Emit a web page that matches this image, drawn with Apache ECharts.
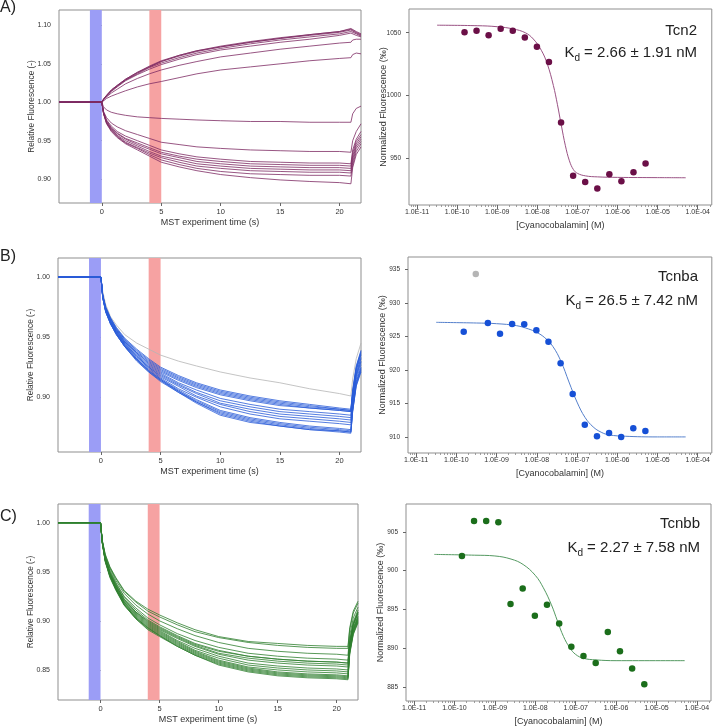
<!DOCTYPE html>
<html><head><meta charset="utf-8">
<script src="https://cdn.jsdelivr.net/npm/echarts@6/dist/echarts.min.js"></script>
<style>html,body{margin:0;padding:0;background:#fff}#c{width:713px;height:727px}</style>
</head><body><div id="c"></div>
<script>
// ---------- time axis samples (s) ----------
const T = [-3.6, 0, 0.15, 0.4, 0.8, 1.3, 2, 3, 4, 5, 6.5, 8, 10, 12.5, 15, 17.5, 20, 20.95, 21.1, 21.4, 21.8];
const TIME_TICKS = [0, 5, 10, 15, 20];
const BLUE_BAND = [-1, 0];
const RED_BAND = [4, 5];

// ---------- Panel A traces (Tcn2) ----------
const A_U1 = [1.000, 1.000, 1.004, 1.009, 1.016, 1.022, 1.030, 1.039, 1.047, 1.054, 1.061, 1.067, 1.073, 1.079, 1.084, 1.088, 1.092, 1.095, 1.094, 1.091, 1.088];
const A_U7 = [1.000, 1.000, 1.004, 1.009, 1.016, 1.022, 1.030, 1.039, 1.046, 1.053, 1.061, 1.067, 1.072, 1.078, 1.083, 1.088, 1.092, 1.096, 1.095, 1.092, 1.089];
const A_U2 = [1.000, 1.000, 1.004, 1.009, 1.015, 1.021, 1.029, 1.038, 1.046, 1.053, 1.060, 1.066, 1.072, 1.078, 1.083, 1.087, 1.091, 1.094, 1.093, 1.090, 1.087];
const A_U3 = [1.000, 1.000, 1.004, 1.008, 1.015, 1.021, 1.029, 1.037, 1.045, 1.051, 1.058, 1.064, 1.070, 1.076, 1.081, 1.085, 1.089, 1.092, 1.091, 1.089, 1.086];
const A_U4 = [1.000, 1.000, 1.004, 1.008, 1.014, 1.020, 1.028, 1.036, 1.043, 1.049, 1.056, 1.062, 1.068, 1.073, 1.078, 1.082, 1.087, 1.090, 1.089, 1.087, 1.085];
const A_U5 = [1.000, 1.000, 1.003, 1.007, 1.012, 1.017, 1.024, 1.031, 1.037, 1.042, 1.048, 1.053, 1.059, 1.064, 1.069, 1.073, 1.077, 1.078, 1.081, 1.082, 1.082];
const A_U6 = [1.000, 1.000, 1.002, 1.005, 1.008, 1.011, 1.015, 1.020, 1.024, 1.027, 1.032, 1.037, 1.042, 1.046, 1.050, 1.054, 1.057, 1.058, 1.062, 1.064, 1.063];
const A_M  = [1.000, 1.000, 0.994, 0.990, 0.987, 0.985, 0.983, 0.981, 0.980, 0.979, 0.978, 0.977, 0.976, 0.975, 0.975, 0.974, 0.974, 0.974, 0.985, 0.992, 0.995];
const A_L1 = [1.000, 1.000, 0.988, 0.980, 0.973, 0.968, 0.963, 0.958, 0.953, 0.948, 0.945, 0.942, 0.940, 0.938, 0.937, 0.936, 0.936, 0.935, 0.950, 0.962, 0.972];
const A_L2 = [1.000, 1.000, 0.987, 0.977, 0.969, 0.962, 0.956, 0.950, 0.944, 0.938, 0.933, 0.929, 0.926, 0.923, 0.922, 0.921, 0.921, 0.920, 0.938, 0.952, 0.962];
const A_L3 = [1.000, 1.000, 0.986, 0.976, 0.967, 0.960, 0.953, 0.947, 0.941, 0.935, 0.930, 0.926, 0.923, 0.920, 0.919, 0.918, 0.918, 0.917, 0.934, 0.949, 0.958];
const A_L4 = [1.000, 1.000, 0.986, 0.975, 0.966, 0.959, 0.952, 0.945, 0.939, 0.933, 0.928, 0.923, 0.920, 0.917, 0.916, 0.915, 0.915, 0.914, 0.930, 0.946, 0.955];
const A_L5 = [1.000, 1.000, 0.986, 0.974, 0.965, 0.957, 0.950, 0.943, 0.936, 0.930, 0.925, 0.920, 0.917, 0.914, 0.913, 0.912, 0.912, 0.911, 0.926, 0.943, 0.952];
const A_L6 = [1.000, 1.000, 0.985, 0.973, 0.964, 0.956, 0.948, 0.941, 0.934, 0.928, 0.922, 0.917, 0.914, 0.911, 0.910, 0.909, 0.909, 0.908, 0.922, 0.940, 0.949];
const A_L7 = [1.000, 1.000, 0.985, 0.973, 0.963, 0.955, 0.947, 0.940, 0.932, 0.925, 0.919, 0.914, 0.910, 0.907, 0.906, 0.905, 0.905, 0.904, 0.918, 0.936, 0.946];
const A_L8 = [1.000, 1.000, 0.985, 0.972, 0.962, 0.954, 0.946, 0.938, 0.930, 0.922, 0.916, 0.911, 0.906, 0.902, 0.899, 0.897, 0.8955, 0.894, 0.915, 0.932, 0.942];
const TRACES_A = [A_U1, A_U7, A_U2, A_U3, A_U4, A_U5, A_U6, A_M, A_L1, A_L2, A_L3, A_L4, A_L5, A_L6, A_L7, A_L8];

// ---------- Panel B traces (Tcnba) ----------
const B_G  = [1.000, 1.000, 0.988, 0.977, 0.967, 0.960, 0.952, 0.945, 0.940, 0.935, 0.930, 0.926, 0.921, 0.916, 0.912, 0.907, 0.903, 0.901, 0.915, 0.932, 0.945];
const B_1  = [1.000, 1.000, 0.985, 0.975, 0.966, 0.958, 0.949, 0.940, 0.932, 0.925, 0.918, 0.912, 0.906, 0.901, 0.897, 0.894, 0.891, 0.890, 0.906, 0.926, 0.939];
const B_2  = [1.000, 1.000, 0.985, 0.975, 0.966, 0.957, 0.948, 0.939, 0.931, 0.924, 0.917, 0.911, 0.905, 0.900, 0.896, 0.893, 0.890, 0.889, 0.905, 0.925, 0.938];
const B_3  = [1.000, 1.000, 0.985, 0.974, 0.965, 0.957, 0.948, 0.938, 0.930, 0.923, 0.916, 0.910, 0.904, 0.899, 0.895, 0.892, 0.890, 0.889, 0.904, 0.924, 0.937];
const B_4  = [1.000, 1.000, 0.984, 0.974, 0.965, 0.956, 0.947, 0.937, 0.929, 0.922, 0.915, 0.909, 0.903, 0.898, 0.894, 0.891, 0.889, 0.888, 0.903, 0.923, 0.936];
const B_5  = [1.000, 1.000, 0.984, 0.974, 0.964, 0.956, 0.946, 0.937, 0.928, 0.921, 0.914, 0.908, 0.902, 0.897, 0.893, 0.891, 0.889, 0.888, 0.902, 0.922, 0.935];
const B_6  = [1.000, 1.000, 0.984, 0.973, 0.964, 0.955, 0.946, 0.936, 0.927, 0.920, 0.912, 0.906, 0.899, 0.894, 0.890, 0.888, 0.886, 0.885, 0.900, 0.920, 0.933];
const B_7  = [1.000, 1.000, 0.984, 0.973, 0.963, 0.955, 0.945, 0.935, 0.926, 0.919, 0.911, 0.904, 0.897, 0.892, 0.888, 0.886, 0.884, 0.883, 0.899, 0.919, 0.932];
const B_8  = [1.000, 1.000, 0.984, 0.973, 0.963, 0.954, 0.945, 0.934, 0.925, 0.918, 0.910, 0.903, 0.895, 0.890, 0.886, 0.884, 0.882, 0.881, 0.897, 0.918, 0.930];
const B_9  = [1.000, 1.000, 0.984, 0.972, 0.963, 0.954, 0.944, 0.934, 0.925, 0.917, 0.909, 0.901, 0.894, 0.888, 0.884, 0.882, 0.880, 0.879, 0.896, 0.917, 0.929];
const B_10 = [1.000, 1.000, 0.983, 0.972, 0.962, 0.953, 0.944, 0.933, 0.924, 0.916, 0.907, 0.900, 0.892, 0.886, 0.882, 0.880, 0.878, 0.877, 0.894, 0.915, 0.927];
const B_11 = [1.000, 1.000, 0.983, 0.972, 0.962, 0.953, 0.943, 0.932, 0.923, 0.915, 0.906, 0.898, 0.889, 0.883, 0.879, 0.876, 0.874, 0.873, 0.891, 0.913, 0.925];
const B_12 = [1.000, 1.000, 0.983, 0.971, 0.962, 0.953, 0.943, 0.932, 0.922, 0.915, 0.905, 0.897, 0.888, 0.882, 0.878, 0.875, 0.873, 0.872, 0.890, 0.912, 0.924];
const B_13 = [1.000, 1.000, 0.983, 0.971, 0.961, 0.952, 0.942, 0.931, 0.922, 0.914, 0.905, 0.896, 0.887, 0.881, 0.877, 0.874, 0.872, 0.871, 0.889, 0.911, 0.923];
const B_14 = [1.000, 1.000, 0.983, 0.971, 0.961, 0.952, 0.942, 0.931, 0.921, 0.914, 0.904, 0.896, 0.886, 0.880, 0.876, 0.873, 0.872, 0.871, 0.888, 0.910, 0.922];
const B_15 = [1.000, 1.000, 0.983, 0.971, 0.961, 0.952, 0.942, 0.930, 0.921, 0.913, 0.904, 0.895, 0.885, 0.879, 0.876, 0.873, 0.871, 0.870, 0.888, 0.909, 0.921];
const TRACES_B = [B_1, B_2, B_3, B_4, B_5, B_6, B_7, B_8, B_9, B_10, B_11, B_12, B_13, B_14, B_15];

// ---------- Panel C traces (Tcnbb) ----------
const C_1  = [1.000, 1.000, 0.982, 0.968, 0.955, 0.944, 0.931, 0.920, 0.912, 0.906, 0.898, 0.891, 0.884, 0.879, 0.877, 0.875, 0.874, 0.874, 0.893, 0.910, 0.920];
const C_2  = [1.000, 1.000, 0.982, 0.967, 0.954, 0.943, 0.930, 0.919, 0.910, 0.904, 0.896, 0.889, 0.883, 0.878, 0.875, 0.873, 0.872, 0.872, 0.891, 0.908, 0.918];
const C_15 = [1.000, 1.000, 0.981, 0.966, 0.953, 0.941, 0.928, 0.916, 0.907, 0.900, 0.892, 0.885, 0.878, 0.872, 0.869, 0.867, 0.866, 0.865, 0.885, 0.903, 0.914];
const C_3  = [1.000, 1.000, 0.981, 0.965, 0.951, 0.939, 0.925, 0.913, 0.903, 0.896, 0.887, 0.880, 0.873, 0.867, 0.864, 0.862, 0.861, 0.860, 0.880, 0.899, 0.911];
const C_16 = [1.000, 1.000, 0.980, 0.963, 0.948, 0.936, 0.922, 0.909, 0.900, 0.893, 0.884, 0.876, 0.869, 0.864, 0.861, 0.859, 0.858, 0.857, 0.878, 0.897, 0.909];
const C_4  = [1.000, 1.000, 0.981, 0.964, 0.950, 0.938, 0.924, 0.911, 0.901, 0.894, 0.885, 0.877, 0.870, 0.864, 0.861, 0.859, 0.858, 0.857, 0.878, 0.897, 0.909];
const C_5  = [1.000, 1.000, 0.981, 0.964, 0.949, 0.937, 0.922, 0.909, 0.899, 0.892, 0.883, 0.875, 0.867, 0.862, 0.859, 0.857, 0.856, 0.855, 0.876, 0.896, 0.908];
const C_6  = [1.000, 1.000, 0.980, 0.963, 0.948, 0.936, 0.921, 0.908, 0.898, 0.891, 0.882, 0.874, 0.866, 0.860, 0.857, 0.855, 0.854, 0.853, 0.875, 0.895, 0.907];
const C_7  = [1.000, 1.000, 0.980, 0.963, 0.948, 0.935, 0.920, 0.907, 0.897, 0.890, 0.880, 0.872, 0.864, 0.857, 0.854, 0.852, 0.851, 0.850, 0.873, 0.893, 0.905];
const C_8  = [1.000, 1.000, 0.980, 0.962, 0.947, 0.934, 0.919, 0.906, 0.896, 0.889, 0.879, 0.870, 0.862, 0.855, 0.852, 0.850, 0.849, 0.848, 0.872, 0.892, 0.904];
const C_9  = [1.000, 1.000, 0.980, 0.962, 0.947, 0.934, 0.919, 0.905, 0.895, 0.888, 0.878, 0.869, 0.860, 0.853, 0.850, 0.848, 0.847, 0.846, 0.871, 0.891, 0.903];
const C_10 = [1.000, 1.000, 0.980, 0.962, 0.946, 0.933, 0.918, 0.904, 0.894, 0.887, 0.877, 0.868, 0.859, 0.852, 0.848, 0.846, 0.845, 0.844, 0.870, 0.890, 0.902];
const C_11 = [1.000, 1.000, 0.980, 0.961, 0.946, 0.933, 0.917, 0.903, 0.893, 0.886, 0.876, 0.867, 0.858, 0.851, 0.847, 0.845, 0.844, 0.843, 0.869, 0.889, 0.901];
const C_12 = [1.000, 1.000, 0.979, 0.961, 0.945, 0.932, 0.917, 0.903, 0.893, 0.885, 0.875, 0.866, 0.857, 0.850, 0.846, 0.844, 0.843, 0.842, 0.868, 0.888, 0.900];
const C_13 = [1.000, 1.000, 0.979, 0.961, 0.945, 0.932, 0.916, 0.902, 0.892, 0.885, 0.874, 0.865, 0.856, 0.849, 0.845, 0.843, 0.842, 0.841, 0.867, 0.887, 0.899];
const C_14 = [1.000, 1.000, 0.979, 0.960, 0.944, 0.931, 0.916, 0.902, 0.891, 0.884, 0.874, 0.865, 0.855, 0.848, 0.844, 0.842, 0.841, 0.840, 0.866, 0.886, 0.898];
const TRACES_C = [C_1, C_2, C_15, C_3, C_16, C_4, C_5, C_6, C_7, C_8, C_9, C_10, C_11, C_12, C_13, C_14];

// ---------- Dose-response data ----------
const CONC = [1.53e-10, 3.05e-10, 6.10e-10, 1.22e-9, 2.44e-9, 4.88e-9, 9.77e-9, 1.95e-8, 3.91e-8, 7.81e-8, 1.56e-7, 3.13e-7, 6.25e-7, 1.25e-6, 2.50e-6, 5.00e-6];
const TCN2  = [1050.3, 1051.6, 1047.9, 1053.2, 1051.6, 1046.3, 1038.8, 1026.6, 978.5, 936.0, 931.2, 925.9, 937.3, 931.7, 938.9, 945.8];
const TCNBA = [925.7, null, 927.0, 925.4, 926.85, 926.8, 925.9, 924.2, 921.0, 916.4, 911.8, 910.1, 910.6, 910.0, 911.3, 910.9];
const TCNBA_EXCLUDED = [null, 934.3, null, null, null, null, null, null, null, null, null, null, null, null, null, null];
const TCNBB = [901.9, 906.4, 906.4, 906.25, 895.7, 897.7, 894.2, 895.6, 893.2, 890.2, 889.0, 888.1, 892.1, 889.6, 887.4, 885.35];

// fitted curves (log10 of concentration, value)
const FIT_A_LOGC = [-10.5, -9.5, -9.0, -8.6, -8.3, -8.1, -7.9, -7.75, -7.6, -7.5, -7.4, -7.3, -7.2, -7.1, -7.0, -6.8, -6.5, -6.0, -5.0, -4.3];
const FIT_A      = [1056.0, 1055.6, 1054.8, 1053.0, 1050.0, 1045.0, 1036.0, 1025.0, 1008.0, 993.0, 976.0, 960.0, 948.0, 941.0, 938.0, 936.0, 935.2, 934.8, 934.6, 934.5];
const FIT_B_LOGC = [-10.5, -9.5, -9.0, -8.5, -8.2, -8.0, -7.8, -7.6, -7.4, -7.2, -7.0, -6.8, -6.6, -6.4, -6.2, -5.8, -5.0, -4.3];
const FIT_B      = [927.1, 927.0, 926.9, 926.6, 926.1, 925.6, 924.8, 923.5, 921.3, 918.2, 915.2, 912.9, 911.5, 910.7, 910.3, 910.1, 910.0, 910.0];
const FIT_C_LOGC = [-10.5, -9.5, -9.0, -8.6, -8.3, -8.0, -7.8, -7.6, -7.45, -7.3, -7.15, -7.0, -6.8, -6.5, -6.0, -4.3];
const FIT_C      = [902.1, 902.0, 901.9, 901.5, 900.8, 899.4, 897.8, 895.6, 893.5, 891.5, 890.1, 889.2, 888.7, 888.5, 888.4, 888.4];

const LOG_TICKS = [-11, -10, -9, -8, -7, -6, -5, -4];
const Y_TICKS_LEFT = [[0.90, 0.95, 1.00, 1.05, 1.10], [0.90, 0.95, 1.00], [0.85, 0.90, 0.95, 1.00]];
const Y_TICKS_RIGHT = [[950, 1000, 1050], [910, 915, 920, 925, 930, 935], [885, 890, 895, 900, 905]];
const NAMES = ['Tcn2', 'Tcnba', 'Tcnbb'];
const KD_TEXT = [' = 2.66 ± 1.91 nM', ' = 26.5 ± 7.42 nM', ' = 2.27 ± 7.58 nM'];
const PANEL_LABELS = ['A)', 'B)', 'C)'];

// ---------- layout / style ----------
const FONT = '"Liberation Sans", Arial, Helvetica, sans-serif';
const TXT = '#333';
const LINE_COL = ['#7e2b63', '#2a5cd8', '#2f7f2f'];
const DOT_COL = ['#6b0f47', '#1650d6', '#1b6e1b'];
const FIT_COL = ['#9a5284', '#5580cc', '#559a62'];
const GREY = '#b5b5b5';
const LEFT_GRIDS = [
  {left: 59, top: 10, width: 302, height: 193},
  {left: 58, top: 258, width: 303, height: 194},
  {left: 58, top: 504, width: 300, height: 196}
];
const RIGHT_GRIDS = [
  {left: 409, top: 9, width: 303, height: 196},
  {left: 408, top: 257, width: 304, height: 196},
  {left: 406, top: 504, width: 305, height: 197}
];
const LEFT_Y_RANGE = [[0.869, 1.12], [0.8544, 1.0158], [0.8194, 1.019]];
const RIGHT_Y_RANGE = [[912.8, 1068.9], [907.6, 936.85], [883.2, 908.6]];
const T_RANGE = [-3.6, 21.8];
const LOGC_RANGE = [-11.2, -3.65];

const MINOR = [];
for (let n = -12; n <= -4; n++) {
  for (let k = 2; k <= 9; k++) {
    const v = n + Math.log10(k);
    if (v > LOGC_RANGE[0] && v < LOGC_RANGE[1]) MINOR.push(v);
  }
}

const grids = [], xAxes = [], yAxes = [], series = [], graphics = [];
const tickStyle = {color: '#666', width: 1};
const labelBase = {fontSize: 7, color: TXT, fontFamily: FONT};
const nameBase = {fontSize: 9, color: TXT, fontFamily: FONT};

LEFT_GRIDS.forEach(g => grids.push(Object.assign({show: true, borderColor: '#8f8f8f', borderWidth: 1, backgroundColor: 'transparent', containLabel: false}, g)));
RIGHT_GRIDS.forEach(g => grids.push(Object.assign({show: true, borderColor: '#8f8f8f', borderWidth: 1, backgroundColor: 'transparent', containLabel: false}, g)));

// left x axes 0..2
for (let i = 0; i < 3; i++) {
  xAxes.push({
    gridIndex: i, type: 'value', min: T_RANGE[0], max: T_RANGE[1], position: 'bottom',
    axisLine: {show: false}, splitLine: {show: false},
    axisTick: {show: true, customValues: TIME_TICKS, length: 3, lineStyle: tickStyle},
    axisLabel: Object.assign({}, labelBase, {customValues: TIME_TICKS, margin: 5, fontSize: 7.5}),
    name: 'MST experiment time (s)', nameLocation: 'middle', nameGap: 15, nameTextStyle: nameBase
  });
}
// right x axes 3..5
for (let i = 0; i < 3; i++) {
  xAxes.push({
    gridIndex: 3 + i, type: 'value', min: LOGC_RANGE[0], max: LOGC_RANGE[1], position: 'bottom',
    axisLine: {show: false}, splitLine: {show: false},
    axisTick: {show: true, customValues: LOG_TICKS, length: 4, lineStyle: tickStyle},
    axisLabel: Object.assign({customValues: LOG_TICKS, margin: 4,
      formatter: v => '1.0E' + (v < 0 ? '-' : '+') + String(Math.abs(Math.round(v))).padStart(2, '0')}, labelBase),
    name: '[Cyanocobalamin] (M)', nameLocation: 'middle', nameGap: 16, nameTextStyle: nameBase
  });
}
// minor log ticks 6..8
for (let i = 0; i < 3; i++) {
  xAxes.push({
    gridIndex: 3 + i, type: 'value', min: LOGC_RANGE[0], max: LOGC_RANGE[1], position: 'bottom',
    axisLine: {show: false}, splitLine: {show: false}, axisLabel: {show: false},
    axisTick: {show: true, customValues: MINOR, length: 2, lineStyle: {color: '#888', width: 0.8}}
  });
}
// y axes
for (let i = 0; i < 3; i++) {
  yAxes.push({
    gridIndex: i, type: 'value', min: LEFT_Y_RANGE[i][0], max: LEFT_Y_RANGE[i][1],
    axisLine: {show: false}, splitLine: {show: false},
    axisTick: {show: true, customValues: Y_TICKS_LEFT[i], length: 3, lineStyle: tickStyle},
    axisLabel: Object.assign({customValues: Y_TICKS_LEFT[i], margin: 8, formatter: v => v.toFixed(2)}, labelBase),
    name: 'Relative Fluorescence (-)', nameLocation: 'middle', nameGap: 23, nameRotate: 90,
    nameMoveOverlap: false, nameTextStyle: Object.assign({}, nameBase, {fontSize: 8.3})
  });
}
for (let i = 0; i < 3; i++) {
  yAxes.push({
    gridIndex: 3 + i, type: 'value', min: RIGHT_Y_RANGE[i][0], max: RIGHT_Y_RANGE[i][1],
    axisLine: {show: false}, splitLine: {show: false},
    axisTick: {show: true, customValues: Y_TICKS_RIGHT[i], length: 3, lineStyle: tickStyle},
    axisLabel: Object.assign({}, labelBase, {customValues: Y_TICKS_RIGHT[i], margin: 8, fontSize: 6.5, formatter: v => String(Math.round(v))}),
    name: 'Normalized Fluorescence (‰)', nameLocation: 'middle', nameGap: 21, nameRotate: 90,
    nameMoveOverlap: false, nameTextStyle: nameBase
  });
}

// band series
for (let i = 0; i < 3; i++) {
  series.push({
    type: 'line', xAxisIndex: i, yAxisIndex: i, z: -1, silent: true,
    data: [[T_RANGE[0], LEFT_Y_RANGE[i][0]]], showSymbol: false, lineStyle: {opacity: 0},
    markArea: {silent: true, data: [
      [{xAxis: BLUE_BAND[0], itemStyle: {color: '#9b9df6'}}, {xAxis: BLUE_BAND[1]}],
      [{xAxis: RED_BAND[0], itemStyle: {color: '#f6a2a2'}}, {xAxis: RED_BAND[1]}]
    ]}
  });
}
function traceSeries(arr, idx, color, w) {
  return {type: 'line', xAxisIndex: idx, yAxisIndex: idx, z: 3, silent: true, showSymbol: false,
    data: T.map((t, j) => [t, arr[j]]), lineStyle: {color: color, width: w}, animation: false};
}
TRACES_A.forEach(a => series.push(traceSeries(a, 0, LINE_COL[0], 0.8)));
series.push(traceSeries(B_G, 1, GREY, 0.8));
TRACES_B.forEach(a => series.push(traceSeries(a, 1, LINE_COL[1], 0.8)));
TRACES_C.forEach(a => series.push(traceSeries(a, 2, LINE_COL[2], 0.8)));

const FITS = [[FIT_A_LOGC, FIT_A], [FIT_B_LOGC, FIT_B], [FIT_C_LOGC, FIT_C]];
const POINTS = [TCN2, TCNBA, TCNBB];
for (let i = 0; i < 3; i++) {
  series.push({type: 'line', xAxisIndex: 3 + i, yAxisIndex: 3 + i, z: 3, silent: true, showSymbol: false, smooth: 0.4,
    data: FITS[i][0].map((x, j) => [x, FITS[i][1][j]]), lineStyle: {color: FIT_COL[i], width: 1}});
  series.push({type: 'scatter', xAxisIndex: 3 + i, yAxisIndex: 3 + i, z: 4, silent: true, symbolSize: 6.5,
    data: CONC.map((c, j) => [Math.log10(c), POINTS[i][j]]).filter(p => p[1] != null),
    itemStyle: {color: DOT_COL[i], opacity: 1}});
}
series.push({type: 'scatter', xAxisIndex: 4, yAxisIndex: 4, z: 4, silent: true, symbolSize: 6.5,
  data: CONC.map((c, j) => [Math.log10(c), TCNBA_EXCLUDED[j]]).filter(p => p[1] != null),
  itemStyle: {color: GREY, opacity: 1}});

// texts
const NAME_POS = [[697, 31], [698, 277], [700, 524]];
const KD_POS = [[697, 54], [698, 302], [700, 549]];
const PANEL_POS = [8, 257, 517];
for (let i = 0; i < 3; i++) {
  graphics.push({type: 'text', x: NAME_POS[i][0], y: NAME_POS[i][1], z: 10,
    style: {text: NAMES[i], align: 'right', verticalAlign: 'middle', fontSize: 15, fontFamily: FONT, fill: '#222'}});
  graphics.push({type: 'text', x: KD_POS[i][0], y: KD_POS[i][1], z: 10,
    style: {text: '{k|K}{s|d}{k|' + KD_TEXT[i] + '}', align: 'right', verticalAlign: 'middle', fill: '#222',
      rich: {
        k: {fontSize: 15, fontFamily: FONT, fill: '#222', verticalAlign: 'bottom', padding: [0, 0, 3, 0]},
        s: {fontSize: 10, fontFamily: FONT, fill: '#222', verticalAlign: 'bottom'}
      }}});
  graphics.push({type: 'text', x: 0, y: PANEL_POS[i], z: 10,
    style: {text: PANEL_LABELS[i], align: 'left', verticalAlign: 'middle', fontSize: 16, fontFamily: FONT, fill: '#222'}});
}

const chart = echarts.init(document.getElementById('c'), null, {renderer: 'canvas'});
chart.setOption({
  animation: false,
  backgroundColor: '#fff',
  textStyle: {fontFamily: FONT},
  grid: grids, xAxis: xAxes, yAxis: yAxes, series: series, graphic: graphics
});
</script>
</body></html>
